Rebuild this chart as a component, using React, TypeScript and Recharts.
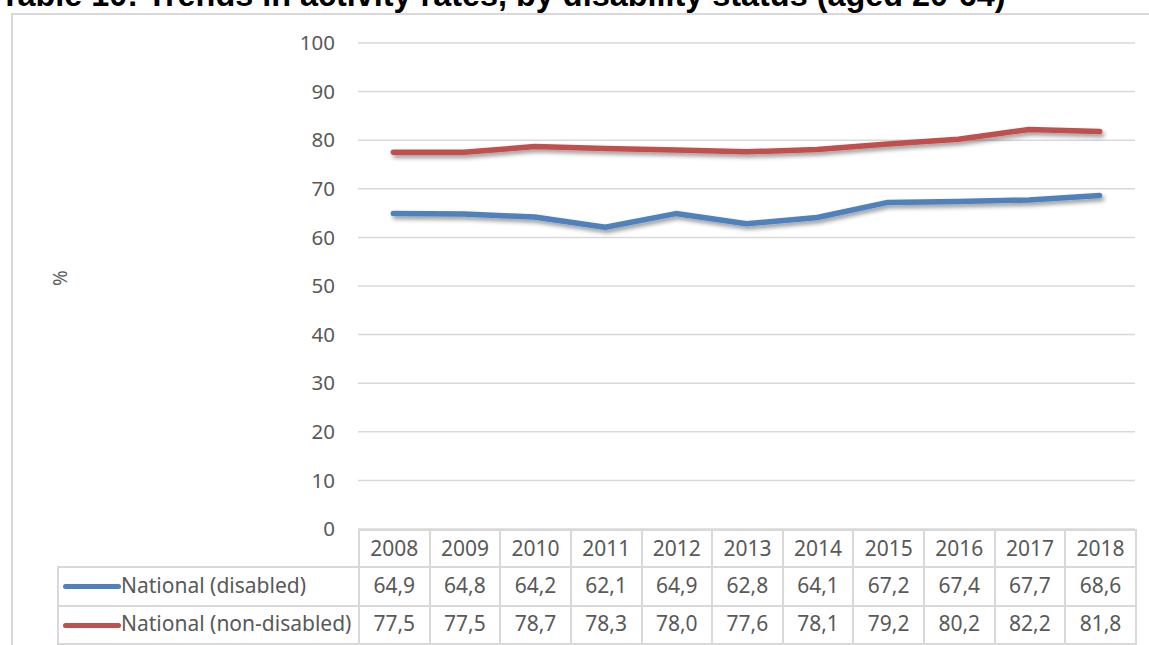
import React from 'react';
import { LineChart, Line, XAxis, YAxis, CartesianGrid } from 'recharts';

const years = ['2008', '2009', '2010', '2011', '2012', '2013', '2014', '2015', '2016', '2017', '2018'];
const disabled = [64.9, 64.8, 64.2, 62.1, 64.9, 62.8, 64.1, 67.2, 67.4, 67.7, 68.6];
const nonDisabled = [77.5, 77.5, 78.7, 78.3, 78.0, 77.6, 78.1, 79.2, 80.2, 82.2, 81.8];
const yTicks = [0, 10, 20, 30, 40, 50, 60, 70, 80, 90, 100];

const seriesList = [
  { key: 'disabled', name: 'National (disabled)', color: '#4F81BD', values: disabled },
  { key: 'nonDisabled', name: 'National (non-disabled)', color: '#C0504D', values: nonDisabled },
];

const data = years.map((year, i) => ({ year, disabled: disabled[i], nonDisabled: nonDisabled[i] }));

const W = 1149;
const H = 645;
const PLOT_LEFT = 358;
const PLOT_RIGHT = 1135;
const PLOT_TOP = 43;
const PLOT_BOTTOM = 529;
const COL_W = (PLOT_RIGHT - PLOT_LEFT) / years.length;
const LEGEND_LEFT = 57;

const FONT = '"Noto Sans", sans-serif';
const TEXT = '#595959';
const BORDER = '2px solid #d9d9d9';

const fmt = (v: number) => v.toFixed(1).replace('.', ',');

const cell: React.CSSProperties = {
  border: BORDER,
  textAlign: 'center',
  padding: 0,
  paddingBottom: 4,
  color: TEXT,
  fontSize: 21,
  whiteSpace: 'nowrap',
  overflow: 'hidden',
};

const DataTable = () => (
  <table
    style={{
      position: 'absolute',
      left: LEGEND_LEFT,
      top: PLOT_BOTTOM,
      borderCollapse: 'collapse',
      tableLayout: 'fixed',
      width: PLOT_RIGHT - LEGEND_LEFT,
      fontFamily: FONT,
    }}
  >
    <colgroup>
      <col style={{ width: PLOT_LEFT - LEGEND_LEFT }} />
      {years.map((y) => (
        <col key={y} style={{ width: COL_W }} />
      ))}
    </colgroup>
    <tbody>
      <tr style={{ height: 37 }}>
        <td style={{ border: 'none' }} />
        {years.map((y) => (
          <td key={y} style={{ ...cell, paddingBottom: 2 }}>{y}</td>
        ))}
      </tr>
      {seriesList.map((s, r) => (
        <tr key={s.key} style={{ height: r === 0 ? 39 : 38 }}>
          <td style={{ ...cell, textAlign: 'left' }}>
            <span
              style={{
                display: 'inline-block',
                width: 58,
                height: 5,
                borderRadius: 3,
                background: s.color,
                marginLeft: 4,
                verticalAlign: 'middle',
              }}
            />
            {s.name}
          </td>
          {s.values.map((v, i) => (
            <td key={i} style={cell}>{fmt(v)}</td>
          ))}
        </tr>
      ))}
    </tbody>
  </table>
);

export default function App() {
  return (
    <div style={{ position: 'absolute', left: 0, top: 0, width: W, height: H, overflow: 'hidden', background: '#fff' }}>
      <div
        style={{
          position: 'absolute',
          left: 11,
          top: 13,
          width: W + 20,
          height: H + 20,
          border: BORDER,
          boxSizing: 'border-box',
        }}
      />
      <div
        style={{
          position: 'absolute',
          left: 0,
          top: -21,
          lineHeight: '32px',
          fontFamily: '"Liberation Sans", Arial, sans-serif',
          fontWeight: 'bold',
          fontSize: 32.4,
          color: '#000',
          whiteSpace: 'nowrap',
        }}
      >
        Table 10: Trends in activity rates, by disability status (aged 20-64)
      </div>
      <div style={{ position: 'absolute', left: 0, top: 0 }}>
        <LineChart
          width={W}
          height={H}
          data={data}
          margin={{ top: PLOT_TOP, right: W - PLOT_RIGHT, bottom: H - PLOT_BOTTOM, left: 50 }}
        >
          <defs>
            <filter id="lineShadow" x="-5%" y="-50%" width="110%" height="200%">
              <feDropShadow dx="2" dy="3" stdDeviation="2" floodColor="#000" floodOpacity="0.4" />
            </filter>
          </defs>
          <CartesianGrid vertical={false} stroke="#d9d9d9" strokeWidth={1.5} />
          <XAxis dataKey="year" hide padding={{ left: COL_W / 2, right: COL_W / 2 }} />
          <YAxis
            width={PLOT_LEFT - 50}
            domain={[0, 100]}
            ticks={yTicks}
            interval={0}
            axisLine={false}
            tickLine={false}
            tickSize={0}
            tickMargin={23}
            tick={{ fill: TEXT, fontSize: 20.5, fontFamily: FONT }}
            label={{ value: '%', angle: -90, position: 'insideLeft', offset: 10, fill: TEXT, fontSize: 19, fontFamily: FONT }}
          />
          {seriesList.map((s) => (
            <Line
              key={s.key}
              dataKey={s.key}
              name={s.name}
              type="linear"
              stroke={s.color}
              strokeWidth={5.5}
              strokeLinecap="round"
              strokeLinejoin="round"
              dot={false}
              activeDot={false}
              filter="url(#lineShadow)"
              isAnimationActive={false}
            />
          ))}
        </LineChart>
      </div>
      <DataTable />
    </div>
  );
}
